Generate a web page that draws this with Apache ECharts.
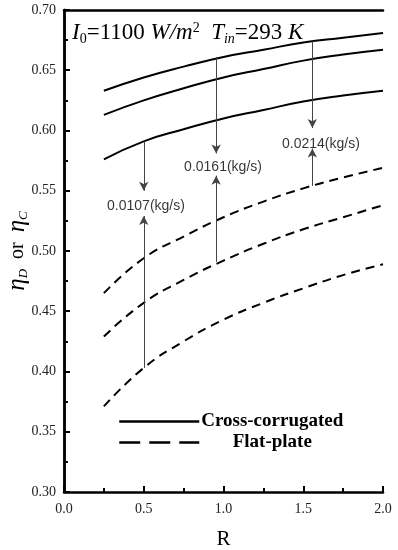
<!DOCTYPE html>
<html><head><meta charset="utf-8">
<script src="https://cdn.jsdelivr.net/npm/echarts@6/dist/echarts.min.js"></script>
<style>html,body{margin:0;padding:0;background:#fff}#c{width:398px;height:550px}</style>
</head><body><div id="c"></div>
<script>
// ---- data ----
const R = [0.25, 0.5, 0.75, 1.0, 1.25, 1.5, 1.75, 2.0];
const crossTop = [0.633, 0.644, 0.653, 0.661, 0.667, 0.673, 0.677, 0.681];
const crossMid = [0.613, 0.625, 0.635, 0.644, 0.651, 0.658, 0.663, 0.667];
const crossLow = [0.576, 0.591, 0.601, 0.610, 0.617, 0.624, 0.629, 0.633];
const flatTop = [0.465, 0.494, 0.512, 0.528, 0.541, 0.552, 0.561, 0.569];
const flatMid = [0.429, 0.457, 0.476, 0.492, 0.506, 0.518, 0.528, 0.538];
const flatLow = [0.371, 0.403, 0.425, 0.443, 0.457, 0.469, 0.480, 0.489];
// arrows: [R, fromY, toY]
const arrows = [
  [0.5, 0.591, 0.550], [0.5, 0.403, 0.529],
  [0.954, 0.661, 0.581], [0.954, 0.491, 0.5625],
  [1.557, 0.674, 0.602], [1.557, 0.554, 0.585]
];
const flowLabels = ['0.0107(kg/s)', '0.0161(kg/s)', '0.0214(kg/s)'];
const flowLabelPos = [[0.514, 0.5375], [0.997, 0.5694], [1.611, 0.589]];

const zip = ys => R.map((r, i) => [r, ys[i]]);
const serif = 'Liberation Serif';
const solid = (ys) => ({type:'line', name:'Cross-corrugated', data:zip(ys), smooth:true, symbol:'none',
  color:'#000', lineStyle:{color:'#000', width:2, type:'solid'}, z:3});
const dashed = (ys) => ({type:'line', name:'Flat-plate', data:zip(ys), smooth:true, symbol:'none',
  color:'#000', lineStyle:{color:'#000', width:2, type:[9,6]}, z:3});

const chart = echarts.init(document.getElementById('c'));
chart.setOption({
  animation:false,
  backgroundColor:'#fff',
  title:{
    text:'{i|I}{sub|0}{n|=1100 }{i|W/m}{sup|2}{n|  }{i|T}{subi|in}{n|=293 }{i|K}',
    left:67, top:15,
    textStyle:{fontWeight:'normal', rich:{
      i:{fontFamily:serif, fontStyle:'italic', fontWeight:'normal', fontSize:23, color:'#000'},
      n:{fontFamily:serif, fontWeight:'normal', fontSize:23, color:'#000'},
      sub:{fontFamily:serif, fontWeight:'normal', fontSize:14, color:'#000', padding:[12,0,0,0]},
      subi:{fontFamily:serif, fontStyle:'italic', fontWeight:'normal', fontSize:14, color:'#000', padding:[12,0,0,0]},
      sup:{fontFamily:serif, fontWeight:'normal', fontSize:14, color:'#000', padding:[0,0,10,0]}
    }}
  },
  legend:{
    data:[
      {name:'Cross-corrugated', itemStyle:{opacity:0}, lineStyle:{type:'solid', width:2.5}},
      {name:'Flat-plate', itemStyle:{opacity:0}, lineStyle:{type:[21,9], width:2.5}}
    ],
    orient:'vertical', left:113, top:407, itemWidth:80, itemHeight:12, itemGap:2,
    itemStyle:{opacity:0},
    textStyle:{fontFamily:serif, fontWeight:'bold', fontSize:19, color:'#000',
      rich:{a:{fontFamily:serif, fontWeight:'bold', fontSize:19, color:'#000', width:136, align:'center'}}},
    formatter: n => '{a|' + n + '}'
  },
  grid:{left:64, right:15, top:10, bottom:58, containLabel:false, outerBoundsMode:'none'},
  xAxis:[{
    type:'value', min:0, max:2, interval:0.5,
    name:'R', nameLocation:'middle', nameGap:37, nameMoveOverlap:false,
    nameTextStyle:{fontFamily:serif, fontSize:21, color:'#000'},
    axisLine:{onZero:false, lineStyle:{color:'#000', width:2.5}},
    axisTick:{inside:true, length:6, lineStyle:{width:2}},
    minorTick:{show:true, splitNumber:2, length:4, lineStyle:{color:'#000', width:2}},
    splitLine:{show:false},
    axisLabel:{fontFamily:serif, fontSize:14, color:'#222', margin:10, formatter:v=>v.toFixed(1)}
  },{
    type:'value', min:0, max:2, position:'top',
    axisLine:{show:true, lineStyle:{color:'#000', width:2.5}},
    axisTick:{show:false}, axisLabel:{show:false}, splitLine:{show:false}
  }],
  yAxis:[{
    type:'value', min:0.30, max:0.70, interval:0.05,
    name:'{i|η}{s|D}{n|  or  }{i|η}{s|C}', nameLocation:'middle', nameGap:34, nameMoveOverlap:false,
    nameTextStyle:{rich:{
      i:{fontFamily:serif, fontStyle:'italic', fontSize:25, color:'#000'},
      n:{fontFamily:serif, fontSize:20, color:'#000'},
      s:{fontFamily:serif, fontStyle:'italic', fontSize:13, color:'#000', padding:[12,0,0,0]}
    }},
    axisLine:{lineStyle:{color:'#000', width:2.5}},
    axisTick:{inside:true, length:6, lineStyle:{width:2}},
    minorTick:{show:true, splitNumber:2, length:4, lineStyle:{color:'#000', width:2}},
    splitLine:{show:false},
    axisLabel:{fontFamily:serif, fontSize:14, color:'#222', margin:8, formatter:v=>v.toFixed(2)}
  },{
    type:'value', min:0.30, max:0.70, position:'right',
    axisLine:{show:true, lineStyle:{color:'#000', width:2.5}},
    axisTick:{show:false}, axisLabel:{show:false}, splitLine:{show:false}
  }],
  series:[
    solid(crossTop), solid(crossMid), solid(crossLow),
    dashed(flatTop), dashed(flatMid), dashed(flatLow),
    {
      type:'line', name:'arrows', data:[], symbol:'none',
      markLine:{
        silent:true, symbol:['none','arrow'], symbolSize:[7,9],
        label:{show:false},
        lineStyle:{color:'#444', width:1, type:'solid'},
        itemStyle:{color:'#000'},
        data: arrows.map(a => [{coord:[a[0], a[1]]}, {coord:[a[0], a[2]]}])
      }
    },
    {
      type:'scatter', name:'labels', symbolSize:0,
      data: flowLabelPos.map((p, i) => ({value:p, label:{show:true, formatter:flowLabels[i]}})),
      label:{position:'inside', align:'center', verticalAlign:'middle',
        fontFamily:'Liberation Sans', fontSize:14, color:'#000'},
      z:5
    }
  ]
});
</script></body></html>
